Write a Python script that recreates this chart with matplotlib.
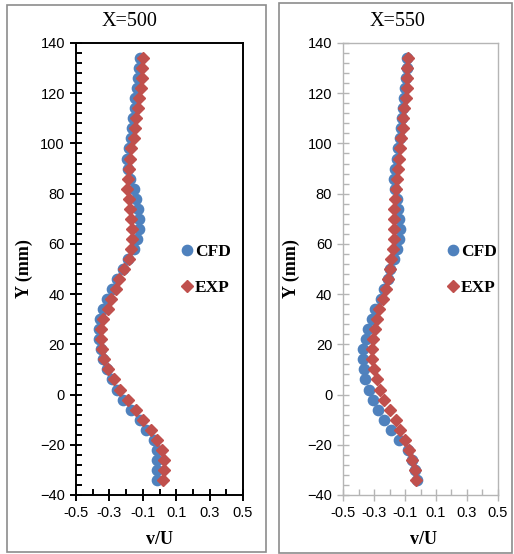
#!/usr/bin/env python3
"""v/U profiles at X=500 and X=550: CFD vs EXP, Excel-style two-panel chart."""

import matplotlib
matplotlib.use("Agg")
import matplotlib.pyplot as plt
from matplotlib.lines import Line2D
from matplotlib.patches import Rectangle
from matplotlib.ticker import AutoMinorLocator, MultipleLocator

Y_MM = [134, 130, 126, 122, 118, 114, 110, 106, 102, 98, 94, 90, 86, 82, 78,
        74, 70, 66, 62, 58, 54, 50, 46, 42, 38, 34, 30, 26, 22, 18, 14, 10,
        6, 2, -2, -6, -10, -14, -18, -22, -26, -30, -34]

CFD_500 = [-0.117, -0.123, -0.129, -0.137, -0.145, -0.149, -0.157, -0.167,
           -0.173, -0.181, -0.193, -0.189, -0.177, -0.153, -0.141, -0.129,
           -0.123, -0.125, -0.133, -0.153, -0.190, -0.220, -0.253, -0.286,
           -0.316, -0.340, -0.356, -0.360, -0.360, -0.352, -0.340, -0.316,
           -0.286, -0.256, -0.220, -0.172, -0.117, -0.081, -0.031, -0.017,
           -0.013, -0.017, -0.013]
EXP_500 = [-0.101, -0.107, -0.107, -0.111, -0.121, -0.129, -0.141, -0.149,
           -0.153, -0.169, -0.177, -0.185, -0.189, -0.197, -0.185, -0.179,
           -0.173, -0.165, -0.167, -0.171, -0.185, -0.211, -0.241, -0.260,
           -0.290, -0.310, -0.336, -0.348, -0.350, -0.342, -0.330, -0.306,
           -0.272, -0.234, -0.187, -0.141, -0.097, -0.053, -0.017, 0.015,
           0.029, 0.029, 0.023]

CFD_550 = [-0.085, -0.090, -0.096, -0.100, -0.107, -0.113, -0.120, -0.128,
           -0.135, -0.144, -0.154, -0.165, -0.172, -0.168, -0.154, -0.144,
           -0.137, -0.133, -0.137, -0.150, -0.170, -0.198, -0.208, -0.234,
           -0.256, -0.295, -0.316, -0.338, -0.353, -0.374, -0.374, -0.366,
           -0.359, -0.333, -0.310, -0.277, -0.234, -0.193, -0.139, -0.079,
           -0.057, -0.036, -0.025]
EXP_550 = [-0.079, -0.085, -0.090, -0.090, -0.096, -0.105, -0.111, -0.113,
           -0.126, -0.133, -0.139, -0.144, -0.152, -0.159, -0.165, -0.172,
           -0.170, -0.172, -0.172, -0.176, -0.189, -0.198, -0.208, -0.223,
           -0.245, -0.267, -0.280, -0.295, -0.306, -0.316, -0.316, -0.299,
           -0.284, -0.262, -0.236, -0.198, -0.159, -0.133, -0.098, -0.072,
           -0.053, -0.036, -0.031]

X_TICKS = [-0.5, -0.3, -0.1, 0.1, 0.3, 0.5]
X_TICK_LABELS = ["-0.5", "-0.3", "-0.1", "0.1", "0.3", "0.5"]

BLUE = "#4F81BD"
RED = "#C0504D"
SERIF = "Liberation Serif"
SANS = "Liberation Sans"

W, H = 514, 554
fig = plt.figure(figsize=(W / 100, H / 100), dpi=100)


def px(x0, y0, x1, y1):
    """pixel box (top-left origin) -> figure fraction rect"""
    return [x0 / W, 1 - y1 / H, (x1 - x0) / W, (y1 - y0) / H]


# chart-area frames
for x0, y0, x1, y1 in [(7, 5, 266, 552), (279, 3, 512, 553)]:
    r = px(x0, y0, x1, y1)
    fig.patches.append(Rectangle((r[0], r[1]), r[2], r[3], transform=fig.transFigure,
                                 fill=False, edgecolor="#8c8c8c", linewidth=1.2))


def panel(rect, cfd, exp, title, title_x, spine_color, spine_w, label_x):
    ax = fig.add_axes(px(*rect))
    ax.plot(cfd, Y_MM, "o", color=BLUE, markersize=7.4, zorder=3)
    ax.plot(exp, Y_MM, "D", color=RED, markersize=6.3, zorder=4)
    ax.set_xlim(-0.5, 0.5)
    ax.set_ylim(-40, 140)
    ax.set_xticks(X_TICKS)
    ax.set_xticklabels(X_TICK_LABELS)
    ax.yaxis.set_major_locator(MultipleLocator(20))
    ax.xaxis.set_minor_locator(AutoMinorLocator(2))
    ax.yaxis.set_minor_locator(AutoMinorLocator(5))
    for s in ax.spines.values():
        s.set_color(spine_color)
        s.set_linewidth(spine_w)
    ax.tick_params(which="major", direction="inout", length=8, width=spine_w,
                   color=spine_color, labelsize=10.5, pad=4)
    ax.tick_params(which="minor", direction="in", length=4, width=spine_w,
                   color=spine_color)
    for lab in ax.get_xticklabels() + ax.get_yticklabels():
        lab.set_fontfamily(SANS)
    ax.set_ylabel("Y (mm)", fontfamily=SERIF, fontweight="bold", fontsize=13,
                  labelpad=5)
    fig.text(label_x / W, 1 - 540 / H, "v/U", ha="center", va="center",
             fontfamily=SERIF, fontweight="bold", fontsize=13)
    fig.text(title_x / W, 1 - 22 / H, title, ha="center", va="center",
             fontfamily=SERIF, fontsize=14.5)
    handles = [Line2D([], [], ls="", marker="o", color=BLUE, markersize=7.4),
               Line2D([], [], ls="", marker="D", color=RED, markersize=6.3)]
    return ax, handles


LEG = dict(loc="upper left", frameon=False, borderpad=0, handlelength=0.6,
           handletextpad=0.15, labelspacing=1.15,
           prop={"family": SERIF, "weight": "bold", "size": 12.5})

axL, h = panel((76, 43, 243, 495), CFD_500, EXP_500, "X=500", 130, "black", 1.4, 160)
fig.legend(h, ["CFD", "EXP"], bbox_to_anchor=(173 / W, 1 - 235 / H), **LEG)

axR, h = panel((343.3, 43, 497.7, 495), CFD_550, EXP_550, "X=550", 398, "#b5b5b5", 1.0, 423)
fig.legend(h, ["CFD", "EXP"], bbox_to_anchor=(439 / W, 1 - 235 / H), **LEG)

fig.savefig("out.png", dpi=100)
